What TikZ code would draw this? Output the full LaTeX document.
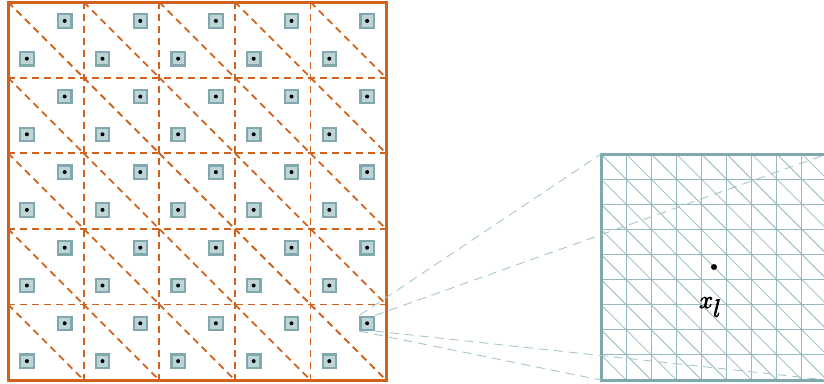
\documentclass[tikz,border=0pt]{standalone}
\usetikzlibrary{calc}
\definecolor{rust}{RGB}{208,98,30}
\definecolor{slate}{RGB}{128,168,173}
\definecolor{slatefill}{RGB}{190,213,216}
\definecolor{guide}{RGB}{168,198,200}
\definecolor{meshline}{RGB}{150,186,190}
% slightly heavier glyphs by stroking their outlines as well as filling them
\newcommand{\heavytext}[1]{\special{pdf:literal direct 0.7 w 2 Tr}#1\special{pdf:literal direct 0 Tr}}
\begin{document}
\begin{tikzpicture}[x=1pt,y=-1pt,
  cellline/.style={rust, line width=1.8pt, dash pattern=on 7pt off 5pt},
  sample/.style={draw=slate, fill=slatefill, line width=2.2pt, minimum size=13.4pt, inner sep=0pt},
  guideline/.style={guide, line width=0.9pt, dash pattern=on 9pt off 6pt},
  meshgrid/.style={meshline, line width=1.1pt},
  meshdiag/.style={meshline, line width=0.8pt},
]
\useasboundingbox (0,0) rectangle (824,383);
% coarse mesh: dashed cell lines and diagonals
\def\cs{75.6}
\foreach \i in {1,...,4} {
  \draw[cellline] (8+\i*\cs,2) -- (8+\i*\cs,380);
  \draw[cellline] (8,2+\i*\cs) -- (386,2+\i*\cs);
}
\foreach \i in {0,...,4} \foreach \j in {0,...,4} {
  \draw[cellline] (8+\i*\cs,2+\j*\cs) -- (8+\i*\cs+\cs,2+\j*\cs+\cs);
}
\draw[rust, line width=3pt] (8,2) rectangle (386,380);
% sample points, two per cell
\foreach \i in {0,...,4} \foreach \j in {0,...,4} {
  \node[sample] (s-\i-\j-a) at (8+\i*\cs+0.75*\cs, 2+\j*\cs+0.25*\cs) {};
  \fill (s-\i-\j-a.center) circle (2pt);
  \node[sample] (s-\i-\j-b) at (8+\i*\cs+0.25*\cs, 2+\j*\cs+0.75*\cs) {};
  \fill (s-\i-\j-b.center) circle (2pt);
}
% magnified fine mesh
\def\fc{25.111}
\node[minimum size=226pt, inner sep=0pt, outer sep=0pt] (zoom) at (714,267) {};
\begin{scope}
  \clip (zoom.north west) rectangle (zoom.south east);
  \foreach \k in {1,...,8} {
    \draw[meshgrid] (601+\k*\fc,154) -- (601+\k*\fc,380);
    \draw[meshgrid] (601,154+\k*\fc) -- (827,154+\k*\fc);
  }
  \foreach \k in {-8,...,8} {
    \draw[meshdiag] (601+\k*\fc,154) -- (827+\k*\fc,380);
  }
\end{scope}
\draw[slate, line width=3pt] (zoom.north west) rectangle (zoom.south east);
\fill (zoom.center) circle (3pt);
\node[font=\fontsize{32}{32}\selectfont, anchor=base west, inner sep=0pt] (xl) at (699,308) {\heavytext{$x_{\textstyle l}$}};
% guide lines from the sample to the magnified view
\draw[guideline] (s-4-4-a.north west) -- (zoom.north west);
\draw[guideline] (s-4-4-a.north east) -- (zoom.north east);
\draw[guideline] (s-4-4-a.south west) -- (zoom.south west);
\draw[guideline] (s-4-4-a.south east) -- (zoom.south east);
\end{tikzpicture}
\end{document}
